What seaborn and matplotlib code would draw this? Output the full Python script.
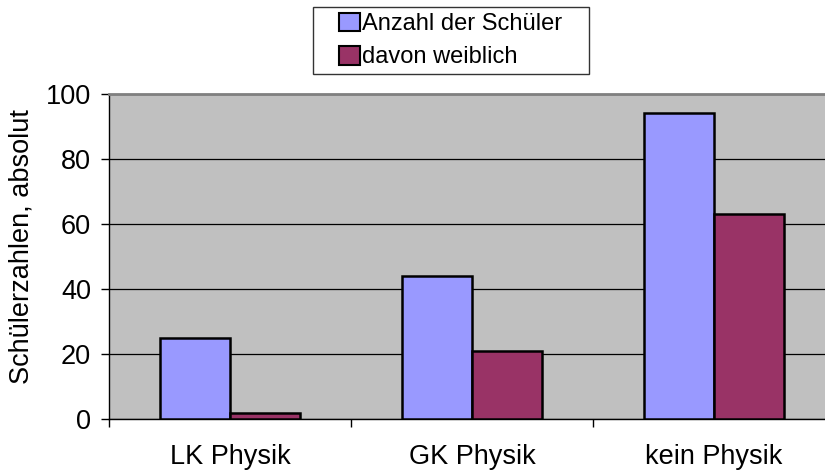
import pandas as pd
import numpy as np
import seaborn as sns
import matplotlib.pyplot as plt
from matplotlib.patches import Patch, Rectangle

# data
kategorien = ['LK Physik', 'GK Physik', 'kein Physik']
anzahl = [25, 44, 94]
weiblich = [2, 21, 63]
serien = ['Anzahl der Schüler', 'davon weiblich']
farben = ['#9999FF', '#993366']

df = pd.DataFrame({
    'Kurs': kategorien * 2,
    'Serie': [serien[0]] * 3 + [serien[1]] * 3,
    'Wert': anzahl + weiblich,
})

sns.set_style('white')
plt.rcParams['font.family'] = ['Liberation Sans', 'DejaVu Sans']
plt.rcParams['text.color'] = 'black'
plt.rcParams['axes.labelcolor'] = 'black'
plt.rcParams['xtick.color'] = 'black'
plt.rcParams['ytick.color'] = 'black'

W, H = 825, 473
fig = plt.figure(figsize=(W / 100, H / 100), dpi=100)
ax = fig.add_axes([109 / W, 1 - 419 / H, 726 / W, 325 / H])
ax.set_facecolor('#C0C0C0')

sns.barplot(data=df, x='Kurs', y='Wert', hue='Serie', palette=farben,
            width=0.58, gap=0, edgecolor='black', linewidth=1.8,
            saturation=1, ax=ax, zorder=3)

ax.set_ylim(0, 100)
ax.set_xlim(-0.5, 2.5)
ax.set_yticks(range(0, 101, 20))
ax.yaxis.grid(True, color='black', linewidth=0.9)
ax.set_axisbelow(True)
for s in ['left', 'bottom']:
    ax.spines[s].set_color('black')
    ax.spines[s].set_linewidth(1.0)
ax.spines['top'].set_color('#808080')
ax.spines['top'].set_linewidth(2)
ax.spines['right'].set_visible(False)

ax.tick_params(axis='y', left=True, length=6, width=1, color='black', pad=7, labelsize=19.5)
ax.tick_params(axis='x', which='major', length=0, pad=18, labelsize=19.5)
ax.set_xticks([-0.5, 0.5, 1.5, 2.5], minor=True)
ax.tick_params(axis='x', which='minor', bottom=True, length=6, width=1, color='black')

ax.set_xlabel('')
ax.set_ylabel('Schülerzahlen, absolut', fontsize=19.5)
ax.yaxis.set_label_coords(-74 / 726, 0.53)

ax.get_legend().remove()
handles = [Patch(facecolor=c, edgecolor='black', linewidth=1.5) for c in farben]
leg = fig.legend(handles, serien, loc='center', bbox_to_anchor=(451 / W, 1 - 40.5 / H),
                 frameon=False, fontsize=17,
                 handlelength=0.85, handleheight=0.85, handletextpad=0.12,
                 labelspacing=0.45, borderpad=0, borderaxespad=0)
# legend frame as in the original (wider horizontal padding)
fig.patches.append(Rectangle((313 / W, 1 - 74 / H), 276 / W, 67 / H,
                             transform=fig.transFigure, facecolor='white',
                             edgecolor='#333333', linewidth=1.0, zorder=0))

fig.savefig('out.png', dpi=100)
